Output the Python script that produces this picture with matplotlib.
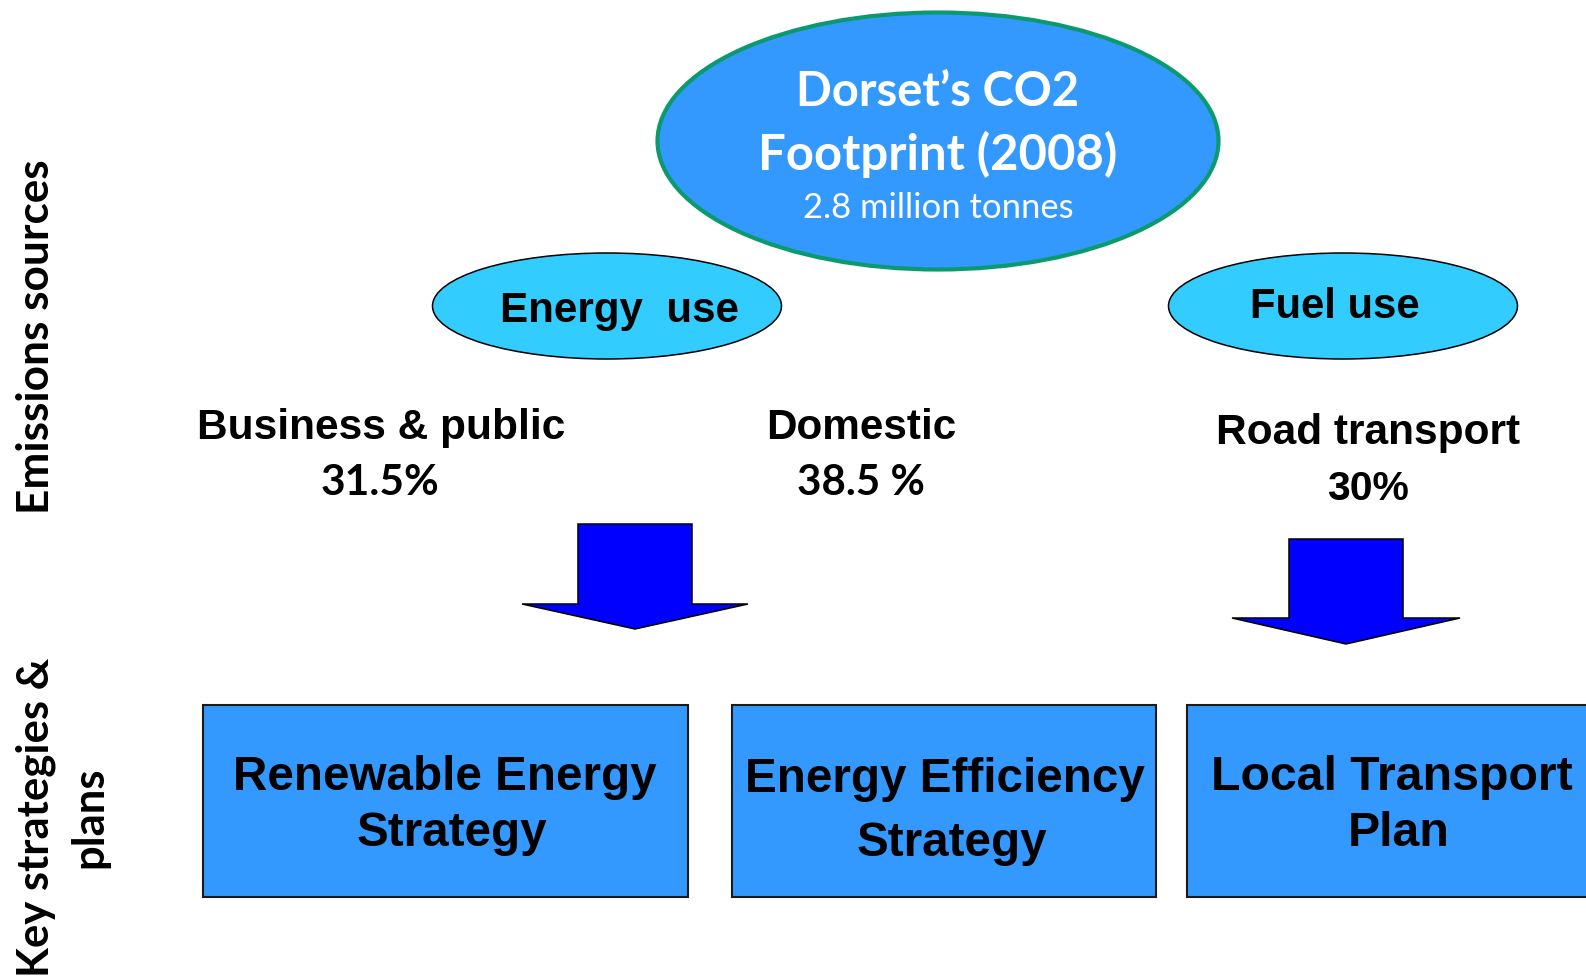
import matplotlib
matplotlib.use("Agg")
import matplotlib.pyplot as plt
from matplotlib.patches import Ellipse, Rectangle, Polygon

W, H = 1586, 976

# ---- content ----
title_lines = ["Dorset\u2019s CO2", "Footprint (2008)"]
subtitle = "2.8 million tonnes"
group_labels = ["Energy  use", "Fuel use"]
source_names = ["Business & public", "Domestic", "Road transport"]
source_pcts = ["31.5%", "38.5 %", "30%"]
strategy_lines = [["Renewable Energy", "Strategy"],
                  ["Energy Efficiency", "Strategy"],
                  ["Local Transport", "Plan"]]
side_label_top = "Emissions sources"
side_label_bottom = ["Key strategies &", "plans"]

ARIAL = "Liberation Sans"
CALIBRI = "Lato"

fig = plt.figure(figsize=(W / 100, H / 100), dpi=100)
ax = fig.add_axes([0, 0, 1, 1])
ax.set_xlim(0, W)
ax.set_ylim(H, 0)
ax.axis("off")
renderer = fig.canvas.get_renderer()


def fit_text(x, y, s, target, family, weight="bold", color="black",
             rotation=0, ha="center", va="center"):
    t = ax.text(x, y, s, fontsize=20, family=family, weight=weight,
                color=color, rotation=rotation, ha=ha, va=va, zorder=5)
    bb = t.get_window_extent(renderer=renderer)
    size = bb.height if rotation == 90 else bb.width
    t.set_fontsize(20 * target / size)
    return t


# ---- big ellipse ----
ax.add_patch(Ellipse((938, 141), 561, 257, facecolor="#3399FF",
                     edgecolor="#0B9A6E", lw=3.0, zorder=2))
fit_text(938, 92, title_lines[0], 283, CALIBRI, color="white")
fit_text(938, 154, title_lines[1], 360, CALIBRI, color="white")
fit_text(938, 208, subtitle, 271, CALIBRI, weight="normal", color="white")

# ---- group ellipses ----
grp_centers = [(607, 306), (1343, 306)]
grp_text = [(620, 311, 239), (1335, 307, 170)]
for (cx, cy), (tx, ty, tw), lab in zip(grp_centers, grp_text, group_labels):
    ax.add_patch(Ellipse((cx, cy), 349, 106, facecolor="#33CCFF",
                         edgecolor="black", lw=1.1, zorder=2))
    fit_text(tx, ty, lab, tw, ARIAL)

# ---- sources ----
src_pos = [(381, 428, 367), (861, 428, 190), (1368, 433, 303)]
pct_pos = [(380, 483, 119, CALIBRI), (861, 483, 128, CALIBRI), (1368, 489, 82, ARIAL)]
for (x, y, w), name in zip(src_pos, source_names):
    fit_text(x, y, name, w, ARIAL)
for (x, y, w, fam), p in zip(pct_pos, source_pcts):
    fit_text(x, y, p, w, fam)

# ---- arrows ----
arrows = [
    dict(sx=(578, 692), top=524, base=604, hx=(522, 748), tip=(635, 629)),
    dict(sx=(1289, 1403), top=539, base=618, hx=(1232, 1460), tip=(1346, 644)),
]
for a in arrows:
    pts = [(a["sx"][0], a["top"]), (a["sx"][1], a["top"]), (a["sx"][1], a["base"]),
           (a["hx"][1], a["base"]), a["tip"], (a["hx"][0], a["base"]),
           (a["sx"][0], a["base"])]
    ax.add_patch(Polygon(pts, closed=True, facecolor="#0000FF",
                         edgecolor="black", lw=1.1, joinstyle="miter", zorder=3))

# ---- strategy boxes ----
boxes = [(203, 705, 485, 192), (732, 705, 424, 192), (1187, 705, 420, 192)]
box_text = [(445, (777, 834), 423),
            (945, (780, 843), 400),
            (1392, (777, 834), 361)]
second_dx = 7
for (bx, by, bw, bh), (cx, ys, w1), lines in zip(boxes, box_text, strategy_lines):
    ax.add_patch(Rectangle((bx, by), bw, bh, facecolor="#3399FF",
                           edgecolor="#1a1a1a", lw=1.5, zorder=2))
    t1 = fit_text(cx, ys[0], lines[0], w1, ARIAL)
    ax.text(cx + second_dx, ys[1], lines[1], fontsize=t1.get_fontsize(), family=ARIAL,
            weight="bold", ha="center", va="center", zorder=5)

# ---- side labels ----
fit_text(36, 337, side_label_top, 354, CALIBRI, rotation=90)
t = fit_text(36, 817, side_label_bottom[0], 319, CALIBRI, rotation=90)
ax.text(89, 817, side_label_bottom[1], fontsize=t.get_fontsize(), family=CALIBRI,
        weight="bold", rotation=90, ha="center", va="center", zorder=5)

fig.savefig("out.png", dpi=100)
